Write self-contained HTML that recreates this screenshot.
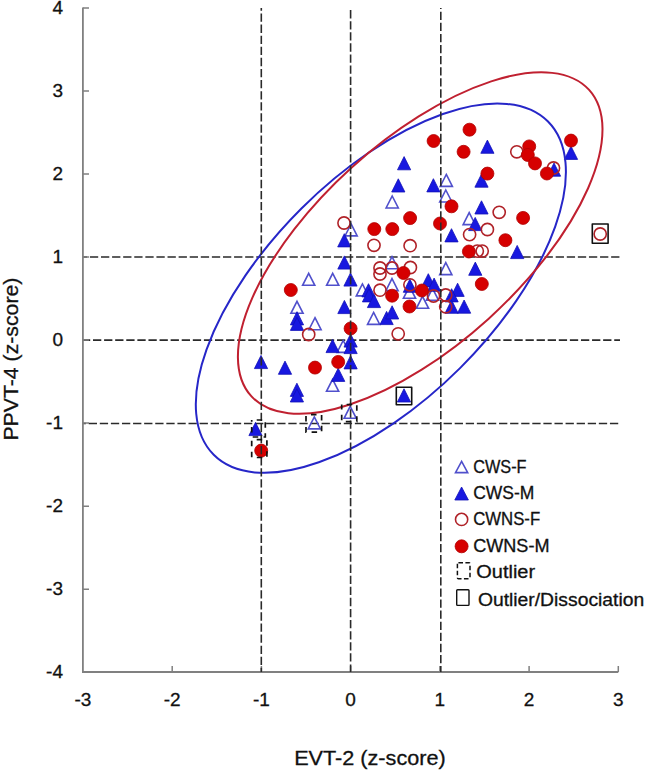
<!DOCTYPE html>
<html><head><meta charset="utf-8"><style>
html,body{margin:0;padding:0;background:#fff;}
svg{display:block;font-family:"Liberation Sans",sans-serif;}
text{stroke:#111;stroke-width:0.3px;}
</style></head><body>
<svg width="646" height="770" viewBox="0 0 646 770">
<rect width="646" height="770" fill="#fff"/>
<line x1="83.0" y1="257.0" x2="620" y2="257.0" stroke="#2a2a2a" stroke-width="1.6" stroke-dasharray="8.3 2.79" fill="none" stroke-dashoffset="4.19"/>
<line x1="83.0" y1="340.1" x2="620" y2="340.1" stroke="#2a2a2a" stroke-width="1.6" stroke-dasharray="8.3 2.79" fill="none" stroke-dashoffset="1.09"/>
<line x1="83.0" y1="423.5" x2="620" y2="423.5" stroke="#2a2a2a" stroke-width="1.6" stroke-dasharray="8.3 2.79" fill="none" stroke-dashoffset="5.39"/>
<path d="M82.9,7.5 V672 H618.3" stroke="#808080" stroke-width="1.8" fill="none"/>
<path d="M82.9,589.2 H89 M82.9,506.2 H89 M82.9,423.1 H89 M82.9,340.1 H89 M82.9,257.1 H89 M82.9,174.0 H89 M82.9,91.0 H89 M82.9,8.0 H89 M172.2,672 V666 M261.4,672 V666 M350.6,672 V666 M439.9,672 V666 M529.1,672 V666 M618.3,672 V666" stroke="#808080" stroke-width="1.5" fill="none"/>
<g fill="none" stroke="#5050cc" stroke-width="1.6" stroke-linejoin="miter"><polygon points="392.2,196.0 398.3,208.0 386.1,208.0"/><polygon points="446.3,174.4 452.4,186.4 440.2,186.4"/><polygon points="445.8,190.0 451.9,202.0 439.7,202.0"/><polygon points="469.2,212.6 475.3,224.6 463.1,224.6"/><polygon points="351.1,223.9 357.2,235.9 345.0,235.9"/><polygon points="308.7,273.3 314.8,285.3 302.6,285.3"/><polygon points="332.7,273.3 338.8,285.3 326.6,285.3"/><polygon points="362.4,283.9 368.5,295.9 356.3,295.9"/><polygon points="297.0,301.3 303.1,313.3 290.9,313.3"/><polygon points="315.0,317.7 321.1,329.7 308.9,329.7"/><polygon points="343.2,340.4 349.3,352.4 337.1,352.4"/><polygon points="332.6,379.3 338.7,391.3 326.5,391.3"/><polygon points="392.0,256.7 398.1,268.7 385.9,268.7"/><polygon points="392.0,278.6 398.1,290.6 385.9,290.6"/><polygon points="409.5,286.3 415.6,298.3 403.4,298.3"/><polygon points="422.5,296.3 428.6,308.3 416.4,308.3"/><polygon points="432.5,288.3 438.6,300.3 426.4,300.3"/><polygon points="373.6,312.4 379.7,324.4 367.5,324.4"/><polygon points="445.8,262.6 451.9,274.6 439.7,274.6"/><polygon points="314.3,416.9 320.4,428.9 308.2,428.9"/><polygon points="350.2,406.3 356.3,418.3 344.1,418.3"/></g>
<g fill="#1818e0" stroke="#1010b8" stroke-width="0.8"><polygon points="404.1,156.6 410.7,169.8 397.5,169.8"/><polygon points="398.3,178.8 404.9,192.0 391.7,192.0"/><polygon points="433.4,178.7 440.0,191.9 426.8,191.9"/><polygon points="487.4,140.1 494.0,153.3 480.8,153.3"/><polygon points="571.0,146.2 577.6,159.4 564.4,159.4"/><polygon points="481.5,174.0 488.1,187.2 474.9,187.2"/><polygon points="481.5,200.8 488.1,214.0 474.9,214.0"/><polygon points="554.0,163.0 560.6,176.2 547.4,176.2"/><polygon points="475.2,217.4 481.8,230.6 468.6,230.6"/><polygon points="451.5,228.7 458.1,241.9 444.9,241.9"/><polygon points="475.3,262.1 481.9,275.3 468.7,275.3"/><polygon points="517.2,245.4 523.8,258.6 510.6,258.6"/><polygon points="344.3,233.7 350.9,246.9 337.7,246.9"/><polygon points="344.4,255.9 351.0,269.1 337.8,269.1"/><polygon points="350.5,272.9 357.1,286.1 343.9,286.1"/><polygon points="344.4,300.4 351.0,313.6 337.8,313.6"/><polygon points="297.0,311.7 303.6,324.9 290.4,324.9"/><polygon points="297.0,317.2 303.6,330.4 290.4,330.4"/><polygon points="332.6,339.4 339.2,352.6 326.0,352.6"/><polygon points="350.6,333.9 357.2,347.1 344.0,347.1"/><polygon points="350.6,340.4 357.2,353.6 344.0,353.6"/><polygon points="350.6,355.7 357.2,368.9 344.0,368.9"/><polygon points="338.2,368.2 344.8,381.4 331.6,381.4"/><polygon points="261.0,355.4 267.6,368.6 254.4,368.6"/><polygon points="285.0,361.1 291.6,374.3 278.4,374.3"/><polygon points="296.9,383.2 303.5,396.4 290.3,396.4"/><polygon points="296.9,388.8 303.5,402.0 290.3,402.0"/><polygon points="255.5,422.4 262.1,435.6 248.9,435.6"/><polygon points="404.0,388.8 410.6,402.0 397.4,402.0"/><polygon points="368.5,283.7 375.1,296.9 361.9,296.9"/><polygon points="369.0,288.7 375.6,301.9 362.4,301.9"/><polygon points="374.0,294.4 380.6,307.6 367.4,307.6"/><polygon points="386.6,311.4 393.2,324.6 380.0,324.6"/><polygon points="392.1,305.8 398.7,319.0 385.5,319.0"/><polygon points="409.9,279.1 416.5,292.3 403.3,292.3"/><polygon points="428.3,273.7 434.9,286.9 421.7,286.9"/><polygon points="434.1,278.1 440.7,291.3 427.5,291.3"/><polygon points="457.6,283.2 464.2,296.4 451.0,296.4"/><polygon points="451.6,288.7 458.2,301.9 445.0,301.9"/><polygon points="451.6,300.1 458.2,313.3 445.0,313.3"/><polygon points="464.1,300.0 470.7,313.2 457.5,313.2"/></g>
<g fill="none" stroke="#b02228" stroke-width="1.6"><circle cx="516.8" cy="151.8" r="6.1"/><circle cx="553.5" cy="168.0" r="6.1"/><circle cx="499.2" cy="212.3" r="6.1"/><circle cx="487.4" cy="229.5" r="6.1"/><circle cx="469.6" cy="234.6" r="6.1"/><circle cx="477.3" cy="251.1" r="6.1"/><circle cx="482.2" cy="251.1" r="6.1"/><circle cx="344.0" cy="223.0" r="6.1"/><circle cx="374.0" cy="245.3" r="6.1"/><circle cx="410.1" cy="245.7" r="6.1"/><circle cx="380.0" cy="268.0" r="6.1"/><circle cx="380.0" cy="274.0" r="6.1"/><circle cx="392.0" cy="268.0" r="6.1"/><circle cx="410.4" cy="267.5" r="6.1"/><circle cx="380.0" cy="290.2" r="6.1"/><circle cx="409.9" cy="284.8" r="6.1"/><circle cx="433.5" cy="296.0" r="6.1"/><circle cx="445.7" cy="295.0" r="6.1"/><circle cx="445.7" cy="306.8" r="6.1"/><circle cx="398.2" cy="333.8" r="6.1"/><circle cx="308.7" cy="334.5" r="6.1"/><circle cx="600.2" cy="234.0" r="6.1"/></g>
<g fill="#d60000" stroke="#b00000" stroke-width="0.8"><circle cx="469.5" cy="129.7" r="6.5"/><circle cx="433.6" cy="141.0" r="6.5"/><circle cx="463.6" cy="151.8" r="6.5"/><circle cx="529.2" cy="146.4" r="6.5"/><circle cx="527.8" cy="155.0" r="6.5"/><circle cx="535.0" cy="163.4" r="6.5"/><circle cx="546.9" cy="173.5" r="6.5"/><circle cx="571.0" cy="140.6" r="6.5"/><circle cx="487.4" cy="173.6" r="6.5"/><circle cx="451.5" cy="206.3" r="6.5"/><circle cx="410.1" cy="218.1" r="6.5"/><circle cx="440.0" cy="223.5" r="6.5"/><circle cx="374.3" cy="229.1" r="6.5"/><circle cx="392.3" cy="229.1" r="6.5"/><circle cx="523.1" cy="217.9" r="6.5"/><circle cx="505.4" cy="240.2" r="6.5"/><circle cx="468.9" cy="251.5" r="6.5"/><circle cx="481.8" cy="284.0" r="6.5"/><circle cx="403.5" cy="273.0" r="6.5"/><circle cx="392.1" cy="295.7" r="6.5"/><circle cx="421.9" cy="290.5" r="6.5"/><circle cx="409.5" cy="306.5" r="6.5"/><circle cx="350.6" cy="328.5" r="6.5"/><circle cx="338.2" cy="361.9" r="6.5"/><circle cx="315.0" cy="367.6" r="6.5"/><circle cx="290.8" cy="290.0" r="6.5"/><circle cx="261.2" cy="450.6" r="6.5"/></g>
<ellipse cx="380.86" cy="288.16" rx="236.0" ry="112.5" transform="rotate(-44.91 380.86 288.16)" fill="none" stroke="#2626c8" stroke-width="2"/>
<ellipse cx="420.20" cy="243.07" rx="228.0" ry="102.0" transform="rotate(-42.19 420.20 243.07)" fill="none" stroke="#c02030" stroke-width="2"/>
<line x1="261.3" y1="8.0" x2="261.3" y2="672" stroke="#2a2a2a" stroke-width="1.6" stroke-dasharray="8.3 2.79" fill="none" stroke-dashoffset="5.59"/>
<line x1="350.6" y1="8.0" x2="350.6" y2="672" stroke="#2a2a2a" stroke-width="1.6" stroke-dasharray="8.3 2.79" fill="none" stroke-dashoffset="8.99"/>
<line x1="440.8" y1="8.0" x2="440.8" y2="672" stroke="#2a2a2a" stroke-width="1.6" stroke-dasharray="8.3 2.79" fill="none" stroke-dashoffset="7.39"/>
<g fill="none" stroke="#111" stroke-width="1.7" stroke-dasharray="5.5 5.4" stroke-dashoffset="5.9"><rect x="306.0" y="414.6" width="15.6" height="17.6"/><rect x="341.7" y="404.5" width="15.1" height="17.1"/><rect x="251.7" y="420.0" width="13.6" height="17.0"/><rect x="251.7" y="439.6" width="15.2" height="17.9"/></g>
<g fill="none" stroke="#111" stroke-width="1.6" stroke-linejoin="round"><rect x="396.3" y="387.2" width="15.4" height="17.6"/><rect x="592.3" y="224.0" width="15.8" height="19.3"/></g>
<g font-size="19" fill="#111"><text x="63" y="678.1" text-anchor="end">-4</text><text x="63" y="595.1" text-anchor="end">-3</text><text x="63" y="512.1" text-anchor="end">-2</text><text x="63" y="429.0" text-anchor="end">-1</text><text x="63" y="346.0" text-anchor="end">0</text><text x="63" y="263.0" text-anchor="end">1</text><text x="63" y="179.9" text-anchor="end">2</text><text x="63" y="96.9" text-anchor="end">3</text><text x="63" y="13.9" text-anchor="end">4</text><text x="83.0" y="706.3" text-anchor="middle">-3</text><text x="172.2" y="706.3" text-anchor="middle">-2</text><text x="261.4" y="706.3" text-anchor="middle">-1</text><text x="350.6" y="706.3" text-anchor="middle">0</text><text x="439.9" y="706.3" text-anchor="middle">1</text><text x="529.1" y="706.3" text-anchor="middle">2</text><text x="618.3" y="706.3" text-anchor="middle">3</text></g>
<text x="294.2" y="765.1" font-size="21" fill="#111" textLength="151.5" lengthAdjust="spacingAndGlyphs">EVT-2 (z-score)</text>
<text transform="translate(17.6,440.6) rotate(-90)" x="0" y="0" font-size="21" fill="#111" textLength="163" lengthAdjust="spacingAndGlyphs">PPVT-4 (z-score)</text>
<g><polygon points="461.6,461.4 467.7,472.6 455.5,472.6" fill="none" stroke="#5050cc" stroke-width="1.6"/><polygon points="461.6,487.0 468.4,500.0 454.8,500.0" fill="#1818e0" stroke="#1010b8" stroke-width="0.8"/><circle cx="461.6" cy="519.4" r="6.1" fill="none" stroke="#b02228" stroke-width="1.6"/><circle cx="461.6" cy="546.3" r="6.5" fill="#d60000" stroke="#b00000" stroke-width="0.8"/><rect x="457.4" y="562.7" width="12.6" height="16.1" rx="1" fill="none" stroke="#111" stroke-width="1.5" stroke-dasharray="4.6 2.4" stroke-linejoin="round"/><rect x="456.7" y="589.7" width="12.3" height="15.7" rx="0.8" fill="none" stroke="#111" stroke-width="1.4"/></g>
<g font-size="17.5" fill="#111"><text x="473.2" y="472.8" textLength="53.4" lengthAdjust="spacingAndGlyphs">CWS-F</text><text x="473.2" y="498.7" textLength="61.2" lengthAdjust="spacingAndGlyphs">CWS-M</text><text x="473.2" y="525.2" textLength="67.0" lengthAdjust="spacingAndGlyphs">CWNS-F</text><text x="473.2" y="552.0" textLength="76.3" lengthAdjust="spacingAndGlyphs">CWNS-M</text><text x="476.3" y="577.6" textLength="58.8" lengthAdjust="spacingAndGlyphs">Outlier</text><text x="477.9" y="605.8" textLength="166.3" lengthAdjust="spacingAndGlyphs">Outlier/Dissociation</text></g>
</svg></body></html>
